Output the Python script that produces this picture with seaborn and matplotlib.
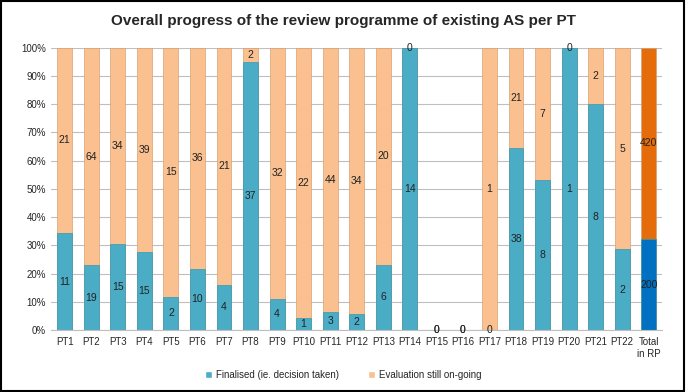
import pandas as pd
import numpy as np
import matplotlib.pyplot as plt
import seaborn as sns
from matplotlib.patches import Patch, Rectangle

# data
categories = ['PT1', 'PT2', 'PT3', 'PT4', 'PT5', 'PT6', 'PT7', 'PT8', 'PT9', 'PT10', 'PT11',
              'PT12', 'PT13', 'PT14', 'PT15', 'PT16', 'PT17', 'PT18', 'PT19', 'PT20', 'PT21',
              'PT22', 'Total\nin RP']
finalised = [11, 19, 15, 15, 2, 10, 4, 37, 4, 1, 3, 2, 6, 14, 0, 0, 0, 38, 8, 1, 8, 2, 200]
ongoing = [21, 64, 34, 39, 15, 36, 21, 2, 32, 22, 44, 34, 20, 0, 0, 0, 1, 21, 7, 0, 2, 5, 420]

df = pd.DataFrame({'pt': categories, 'fin': finalised, 'ong': ongoing})
df['tot'] = df['fin'] + df['ong']
df['fin_pct'] = np.where(df['tot'] > 0, df['fin'] / df['tot'].replace(0, 1) * 100, 0)
df['tot_pct'] = np.where(df['tot'] > 0, 100, 0)

sns.set_style('white')
plt.rcParams['font.family'] = ['Liberation Sans Narrow', 'Liberation Sans', 'DejaVu Sans']

blue = '#4BACC6'
orange = '#FAC090'
pal_orange = [orange] * 22 + ['#E46C0A']
pal_blue = [blue] * 22 + ['#0070C0']

fig = plt.figure(figsize=(6.86, 3.92), dpi=100)
ax = fig.add_axes([0.075, 0.158, 0.89, 0.72])

sns.barplot(data=df, x='pt', y='tot_pct', hue='pt', palette=pal_orange, legend=False,
            width=0.56, ax=ax, edgecolor='#D9A070', linewidth=0.5, saturation=1)
sns.barplot(data=df, x='pt', y='fin_pct', hue='pt', palette=pal_blue, legend=False,
            width=0.56, ax=ax, edgecolor='#3A98B2', linewidth=0.5, saturation=1)

# value labels in the middle of each segment
for i, r in df.iterrows():
    ax.text(i, r['fin_pct'] / 2, str(r['fin']), ha='center', va='center', fontsize=7.5, color='#222222')
    ax.text(i, (r['fin_pct'] + r['tot_pct']) / 2, str(r['ong']), ha='center', va='center',
            fontsize=7.5, color='#222222')

ax.set_ylim(0, 100)
ax.set_xlim(-0.5, len(categories) - 0.5)
ax.set_yticks(range(0, 101, 10))
ax.set_yticklabels([f'{v}%' for v in range(0, 101, 10)], fontsize=7)
ax.tick_params(axis='x', labelsize=7, length=0, pad=5)
ax.tick_params(axis='y', length=0, pad=4)
ax.set_xlabel('')
ax.set_ylabel('')
ax.yaxis.grid(True, color='#BFBFBF', linewidth=0.8)
ax.set_axisbelow(True)
for s in ['top', 'right', 'left']:
    ax.spines[s].set_visible(False)
ax.spines['bottom'].set_color('#BFBFBF')

fig.suptitle('Overall progress of the review programme of existing AS per PT',
             fontsize=11, fontweight='bold', y=0.965)

handles = [Patch(facecolor=blue, label='Finalised (ie. decision taken)'),
           Patch(facecolor=orange, label='Evaluation still on-going')]
fig.legend(handles=handles, loc='center', bbox_to_anchor=(0.5, 0.043), ncol=2, frameon=False,
           fontsize=7, handlelength=0.7, handleheight=0.7, columnspacing=3, handletextpad=0.4)

fig.patches.append(Rectangle((0.002, 0.003), 0.995, 0.994, transform=fig.transFigure,
                             fill=False, edgecolor='black', linewidth=1.5))

fig.savefig('out.png', dpi=100)
